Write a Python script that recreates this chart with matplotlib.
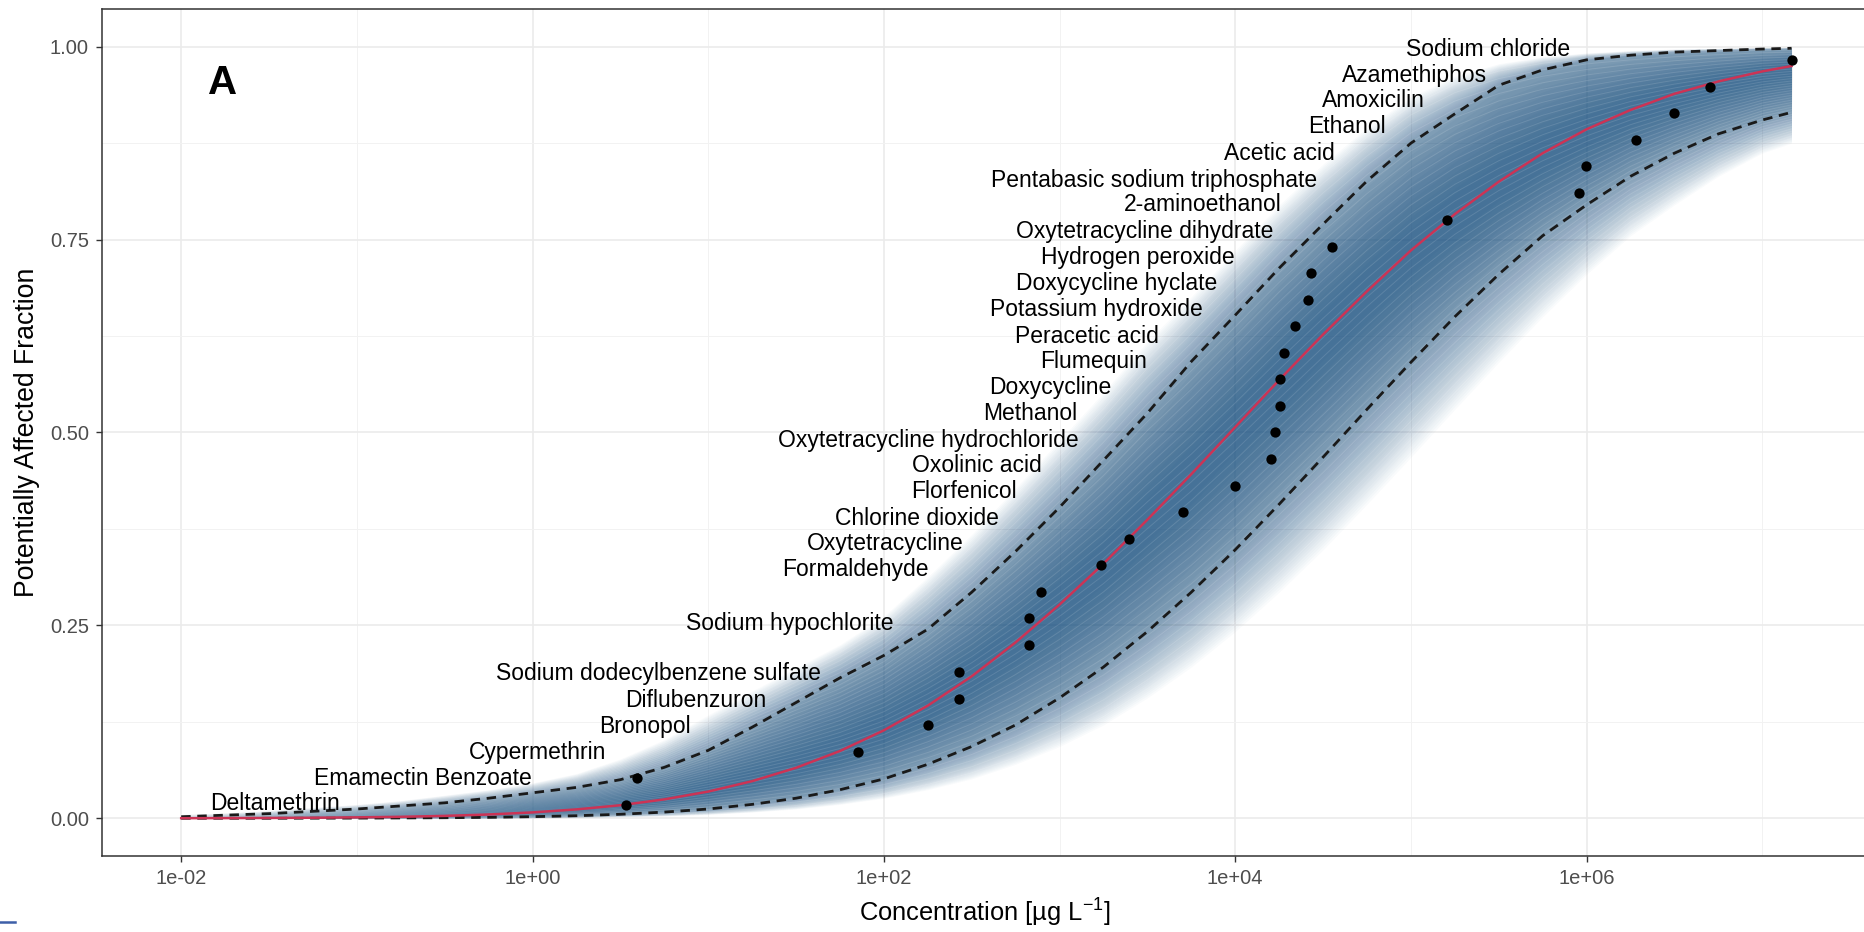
import numpy as np
import matplotlib
matplotlib.use("Agg")
import matplotlib.pyplot as plt
from matplotlib.lines import Line2D
from matplotlib.ticker import FixedLocator, NullFormatter

plt.rcParams["font.family"] = ["Liberation Sans", "DejaVu Sans"]
plt.rcParams["mathtext.fontset"] = "custom"
plt.rcParams["mathtext.rm"] = "Liberation Sans"
plt.rcParams["mathtext.it"] = "Liberation Sans:italic"
plt.rcParams["mathtext.bf"] = "Liberation Sans:bold"

# toxicity values (ug/L) and their plotting fractions
tox_conc = [3.42, 3.91, 71.0, 179, 269, 269, 668, 673, 787, 1730, 2495, 5070,
            10000, 16000, 16900, 18000, 18000, 19000, 22000, 26100, 27000, 35700,
            161000, 902000, 995000, 1900000, 3130000, 5020000, 14700000]
tox_frac = [0.017, 0.052, 0.086, 0.121, 0.155, 0.190, 0.224, 0.259, 0.293, 0.328,
            0.362, 0.397, 0.431, 0.466, 0.500, 0.534, 0.569, 0.603, 0.638, 0.672,
            0.707, 0.741, 0.776, 0.810, 0.845, 0.879, 0.914, 0.948, 0.983]

# substance labels: right end of the text (ug/L) and height
chem_names = ["Deltamethrin", "Emamectin Benzoate", "Cypermethrin", "Bronopol",
              "Diflubenzuron", "Sodium dodecylbenzene sulfate", "Sodium hypochlorite",
              "Formaldehyde", "Oxytetracycline", "Chlorine dioxide", "Florfenicol",
              "Oxolinic acid", "Oxytetracycline hydrochloride", "Methanol", "Doxycycline",
              "Flumequin", "Peracetic acid", "Potassium hydroxide", "Doxycycline hyclate",
              "Hydrogen peroxide", "Oxytetracycline dihydrate", "2-aminoethanol",
              "Pentabasic sodium triphosphate", "Acetic acid", "Ethanol", "Amoxicilin",
              "Azamethiphos", "Sodium chloride"]
label_conc = [0.0796, 0.995, 2.62, 8.0, 21.4, 44, 114, 179, 283, 449, 571, 792, 1279,
              1253, 1982, 3133, 3698, 6531, 7852, 9977, 16480, 18400, 29380, 36730,
              71610, 120200, 272300, 801700]
label_frac = [0.0185, 0.051, 0.085, 0.119, 0.153, 0.187, 0.253, 0.322, 0.356, 0.389,
              0.423, 0.457, 0.490, 0.525, 0.558, 0.592, 0.625, 0.660, 0.693, 0.727,
              0.760, 0.795, 0.827, 0.862, 0.896, 0.930, 0.963, 0.997]

curve_log_conc = [-2.0, -1.75, -1.5, -1.25, -1.0, -0.75, -0.5, -0.25, 0.0, 0.25, 0.5,
                  0.75, 1.0, 1.25, 1.5, 1.75, 2.0, 2.25, 2.5, 2.75, 3.0, 3.25, 3.5,
                  3.75, 4.0, 4.25, 4.5, 4.75, 5.0, 5.25, 5.5, 5.75, 6.0, 6.25, 6.5,
                  6.75, 7.0, 7.167]
fit_median = [0.0001, 0.0002, 0.0004, 0.0007, 0.0012, 0.0019, 0.0031, 0.0049, 0.0076,
              0.0115, 0.0169, 0.0245, 0.0346, 0.0481, 0.0654, 0.0872, 0.114, 0.146,
              0.184, 0.228, 0.277, 0.330, 0.387, 0.446, 0.507, 0.568, 0.627, 0.683,
              0.736, 0.783, 0.825, 0.862, 0.893, 0.918, 0.939, 0.955, 0.968, 0.975]
ci_upper = [0.002, 0.004, 0.006, 0.009, 0.012, 0.016, 0.020, 0.026, 0.033, 0.040, 0.050,
            0.066, 0.088, 0.118, 0.150, 0.182, 0.211, 0.245, 0.293, 0.346, 0.403, 0.464,
            0.525, 0.592, 0.652, 0.713, 0.770, 0.826, 0.875, 0.913, 0.950, 0.970, 0.983,
            0.989, 0.993, 0.995, 0.997, 0.998]
ci_lower = [0.0, 0.0, 0.0, 0.0001, 0.0002, 0.0004, 0.0007, 0.0012, 0.0021, 0.0033, 0.0052,
            0.008, 0.012, 0.018, 0.026, 0.037, 0.051, 0.070, 0.093, 0.121, 0.156, 0.196,
            0.242, 0.293, 0.348, 0.407, 0.468, 0.530, 0.591, 0.650, 0.705, 0.755, 0.795,
            0.832, 0.862, 0.887, 0.905, 0.915]
boot_upper = [0.005, 0.007, 0.010, 0.014, 0.018, 0.023, 0.030, 0.037, 0.046, 0.058, 0.077,
              0.102, 0.134, 0.165, 0.195, 0.225, 0.262, 0.313, 0.368, 0.428, 0.490, 0.552,
              0.618, 0.676, 0.736, 0.795, 0.848, 0.895, 0.935, 0.962, 0.978, 0.987, 0.992,
              0.995, 0.997, 0.998, 0.999, 0.999]
boot_lower = [0.0, 0.0, 0.0, 0.0, 0.0, 0.0, 0.0, 0.0, 0.0005, 0.001, 0.002, 0.003, 0.005,
              0.008, 0.012, 0.018, 0.026, 0.037, 0.051, 0.070, 0.093, 0.121, 0.156, 0.196,
              0.242, 0.293, 0.348, 0.407, 0.468, 0.530, 0.591, 0.650, 0.705, 0.755, 0.795,
              0.832, 0.862, 0.875]

x_major = [1e-2, 1e0, 1e2, 1e4, 1e6]
x_major_labels = ["1e-02", "1e+00", "1e+02", "1e+04", "1e+06"]
x_minor = [1e-1, 1e1, 1e3, 1e5, 1e7]
y_major = [0.0, 0.25, 0.5, 0.75, 1.0]
y_minor = [0.125, 0.375, 0.625, 0.875]

W, H = 1865, 932
fig = plt.figure(figsize=(W / 100, H / 100), dpi=100)
ax = fig.add_axes([101.7 / W, 76 / H, 1 - 101.7 / W, 846.7 / H])

xs = 10 ** np.array(curve_log_conc)
mid = np.array(fit_median)
hi_ci, lo_ci = np.array(ci_upper), np.array(ci_lower)
hi_out, lo_out = np.array(boot_upper), np.array(boot_lower)

# bootstrap cloud: stacked translucent fills, fading outward
band_col = "#245a8a"
n_fade = 30
for k in range(n_fade):
    t = k / n_fade
    ax.fill_between(xs, lo_out + t * (lo_ci - lo_out), hi_out + t * (hi_ci - hi_out),
                    color=band_col, alpha=0.022, lw=0, zorder=1)
n_core = 16
for k in range(n_core):
    t = 0.85 * k / n_core
    ax.fill_between(xs, lo_ci + t * (mid - lo_ci), hi_ci + t * (mid - hi_ci),
                    color=band_col, alpha=0.055, lw=0, zorder=1)

# light streaks so the cloud reads as many overlaid curves
for k in range(1, 40):
    t = k / 40
    ax.plot(xs, lo_out + t * (hi_out - lo_out), color="white", lw=0.7, alpha=0.12,
            zorder=2)

ax.plot(xs, hi_ci, color="#1a1a1a", lw=2.0, dashes=(3.4, 2.4), zorder=3)
ax.plot(xs, lo_ci, color="#1a1a1a", lw=2.0, dashes=(3.4, 2.4), zorder=3)
ax.plot(xs, mid, color="#cc3355", lw=1.8, zorder=4)
ax.scatter(tox_conc, tox_frac, s=55, color="black", zorder=5, lw=0)

for name, lx, ly in zip(chem_names, label_conc, label_frac):
    ax.text(lx, ly, name, ha="right", va="center", fontsize=16.5, color="black", zorder=6)

ax.text(0.0688, 0.913, "A", transform=ax.transAxes, ha="center", va="center",
        fontsize=29, fontweight="bold")

ax.set_xscale("log")
ax.set_xlim(10 ** -2.4525, 10 ** 7.585)
ax.set_ylim(-0.0489, 1.0485)
ax.xaxis.set_major_locator(FixedLocator(x_major))
ax.set_xticklabels(x_major_labels)
ax.xaxis.set_minor_locator(FixedLocator(x_minor))
ax.xaxis.set_minor_formatter(NullFormatter())
ax.set_yticks(y_major)
ax.set_yticklabels(["0.00", "0.25", "0.50", "0.75", "1.00"])
ax.yaxis.set_minor_locator(FixedLocator(y_minor))
ax.tick_params(which="major", length=4.3, width=1.0, color="#333333",
               labelcolor="#4d4d4d", labelsize=14.5, pad=5)
ax.tick_params(which="minor", length=0)
ax.grid(which="major", color="#ebebeb", lw=1.2)
ax.grid(which="minor", color="#f2f2f2", lw=0.7)
ax.set_axisbelow(True)
for side in ["left", "bottom", "top"]:
    ax.spines[side].set_color("#333333")
    ax.spines[side].set_linewidth(1.1)
ax.spines["right"].set_visible(False)

fig.text(985 / W, 1 - 913 / H, "Concentration [µg L$^{-1}$]", ha="center", va="center",
         fontsize=18.4)
fig.text(26.7 / W, 1 - 432.7 / H, "Potentially Affected Fraction", rotation=90,
         ha="center", va="center", fontsize=19.2)

# small stray mark at the bottom-left corner of the page
fig.add_artist(Line2D([0, 15 / W], [1 - 922 / H] * 2, color="#3d5fa8", lw=1.8))

fig.savefig("out.png", dpi=100)
